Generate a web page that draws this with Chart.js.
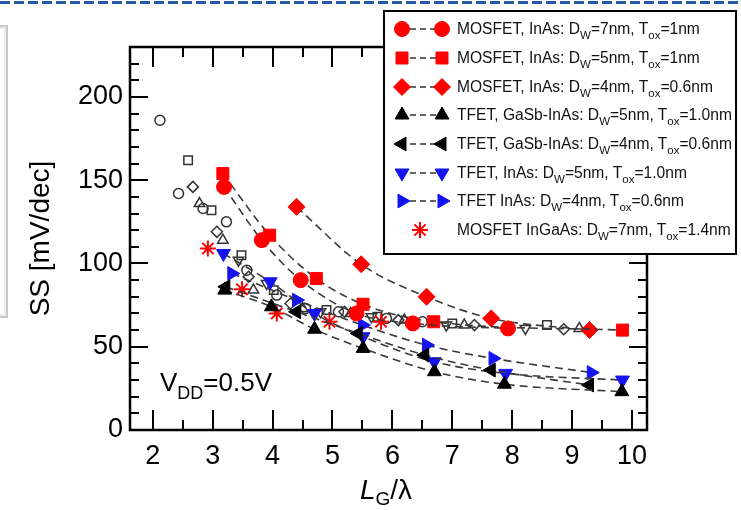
<!DOCTYPE html>
<html>
<head>
<meta charset="utf-8">
<script src="https://cdn.jsdelivr.net/npm/chart.js@4.4.1/dist/chart.umd.min.js"></script>
<style>
  body { margin: 0; background: #fff; }
  #wrap { position: relative; width: 741px; height: 510px; overflow: hidden; font-family: "Liberation Sans", Arial, sans-serif; }
  #ssChart { position: absolute; left: 0; top: 0; }
  .topline { position: absolute; left: 0; top: 1px; width: 741px; height: 3px;
    background: repeating-linear-gradient(90deg, #2459ad 0 10px, transparent 10px 14px); }
  .sidebox { position: absolute; left: -6px; top: 25px; width: 10px; height: 289px;
    border: 2px solid #c9c9c9; box-shadow: inset 0 0 0 2px #ececec; }
  #legend { position: absolute; left: 383px; top: 10px; width: 350px; height: 238px;
    border: 2px solid #000; background: #fff; padding-top: 3px; }
  .row { display: flex; align-items: center; height: 28.7px; font-size: 15.6px; color: #111; white-space: nowrap; }
  .row canvas { margin-left: 7px; margin-right: 5px; }
  .row sub, .vdd sub, .xtitle sub { line-height: 0; }
  .row sub { font-size: 11.5px; vertical-align: -5px; }
  .vdd { position: absolute; left: 160px; top: 369px; font-size: 26px; line-height: 26px; color: #000; }
  .vdd sub { font-size: 18px; vertical-align: -8px; }
  .xtitle { position: absolute; left: 298px; width: 176px; top: 476px; text-align: center;
    font-size: 28px; line-height: 28px; color: #000; }
  .xtitle sub { font-size: 19px; vertical-align: -6px; }
</style>
</head>
<body>
<div id="wrap">
  <div class="topline"></div>
  <div class="sidebox"></div>
  <canvas id="ssChart" width="741" height="510"></canvas>
  <div id="legend"></div>
  <div class="vdd">V<sub>DD</sub>=0.5V</div>
  <div class="xtitle"><i>L</i><sub>G</sub>/λ</div>
</div>
<script>
// Axis ticks
const xTicks = [2, 3, 4, 5, 6, 7, 8, 9, 10];
const yTicks = [0, 50, 100, 150, 200];

// MOSFET, InAs: Dw=7nm, Tox=1nm
const mos7X = [3.19, 3.82, 4.47, 5.40, 6.34, 7.93];
const mos7Y = [146, 114, 90, 70, 64, 61];
// MOSFET, InAs: Dw=5nm, Tox=1nm
const mos5X = [3.17, 3.95, 4.73, 5.51, 6.69, 9.84];
const mos5Y = [154, 117, 91, 75.5, 65, 60];
// MOSFET, InAs: Dw=4nm, Tox=0.6nm
const mos4X = [4.40, 5.48, 6.57, 7.65, 9.29];
const mos4Y = [134, 99.5, 80, 67, 60];
// TFET, GaSb-InAs: Dw=5nm, Tox=1.0nm
const tfetHet5X = [3.20, 3.98, 4.70, 5.51, 6.70, 7.87, 9.83];
const tfetHet5Y = [84, 74, 60.5, 49, 35, 27.5, 23];
// TFET, GaSb-InAs: Dw=4nm, Tox=0.6nm
const tfetHet4X = [3.22, 4.40, 5.43, 6.54, 7.65, 9.29];
const tfetHet4Y = [86, 71, 58, 45, 36, 27];
// TFET, InAs: Dw=5nm, Tox=1.0nm
const tfetInAs5X = [3.18, 3.96, 4.70, 5.51, 6.70, 7.89, 9.84];
const tfetInAs5Y = [106, 89, 70, 56, 41, 34, 30];
// TFET InAs: Dw=4nm, Tox=0.6nm
const tfetInAs4X = [3.32, 4.40, 5.50, 6.57, 7.68, 9.32];
const tfetInAs4Y = [94, 78, 63, 51, 43, 34.5];
// MOSFET InGaAs: Dw=7nm, Tox=1.4nm
const ingaasX = [2.92, 3.49, 4.07, 4.95, 5.81];
const ingaasY = [109, 84.5, 70, 65, 65];

// Hollow reference points (no legend entry)
const openCircleX = [2.12, 2.43, 2.84, 3.23, 3.57, 4.07, 4.55, 5.10, 5.90, 6.50];
const openCircleY = [186, 142, 133, 125, 96, 81, 73, 71, 67, 65];
const openSquareX = [2.59, 2.98, 3.48, 4.02, 4.90, 5.75, 7.00, 8.58];
const openSquareY = [162, 132, 105, 84, 72, 68, 64, 63];
const openDiamondX = [2.67, 3.07, 3.60, 4.30, 5.20, 6.10, 7.37, 8.86];
const openDiamondY = [146, 119, 92, 76, 71, 66, 63, 60.5];
const openTriX = [2.78, 3.17, 3.68, 4.50, 5.30, 6.20, 7.20, 9.12];
const openTriY = [136, 114, 84, 73, 70, 66, 63, 61];
const openTriDownX = [3.43, 3.90, 4.80, 5.65, 6.90, 8.22];
const openTriDownY = [102, 88, 71, 68, 63, 61];

const RED = '#ff0000';
const BLUE = '#1414ee';
const BLACK = '#000000';

function toPoints(xs, ys) {
    return xs.map((x, i) => ({ x: x, y: ys[i] }));
}

// Filled series shown in the legend
const series = [
    { label: 'MOSFET, InAs: D<sub>W</sub>=7nm, T<sub>ox</sub>=1nm', xs: mos7X, ys: mos7Y,
      style: 'circle', rotation: 0, radius: 7.5, color: RED, line: true },
    { label: 'MOSFET, InAs: D<sub>W</sub>=5nm, T<sub>ox</sub>=1nm', xs: mos5X, ys: mos5Y,
      style: 'rect', rotation: 0, radius: 8.5, color: RED, line: true },
    { label: 'MOSFET, InAs: D<sub>W</sub>=4nm, T<sub>ox</sub>=0.6nm', xs: mos4X, ys: mos4Y,
      style: 'rectRot', rotation: 0, radius: 8.5, color: RED, line: true },
    { label: 'TFET, GaSb-InAs: D<sub>W</sub>=5nm, T<sub>ox</sub>=1.0nm', xs: tfetHet5X, ys: tfetHet5Y,
      style: 'triangle', rotation: 0, radius: 8, color: BLACK, line: true },
    { label: 'TFET, GaSb-InAs: D<sub>W</sub>=4nm, T<sub>ox</sub>=0.6nm', xs: tfetHet4X, ys: tfetHet4Y,
      style: 'triangle', rotation: 270, radius: 8, color: BLACK, line: true },
    { label: 'TFET, InAs: D<sub>W</sub>=5nm, T<sub>ox</sub>=1.0nm', xs: tfetInAs5X, ys: tfetInAs5Y,
      style: 'triangle', rotation: 180, radius: 8, color: BLUE, line: true },
    { label: 'TFET InAs: D<sub>W</sub>=4nm, T<sub>ox</sub>=0.6nm', xs: tfetInAs4X, ys: tfetInAs4Y,
      style: 'triangle', rotation: 90, radius: 8, color: BLUE, line: true },
    { label: 'MOSFET InGaAs: D<sub>W</sub>=7nm, T<sub>ox</sub>=1.4nm', xs: ingaasX, ys: ingaasY,
      style: 'star', rotation: 0, radius: 8, color: RED, line: false, borderWidth: 2 },
];

const hollow = [
    { xs: openCircleX, ys: openCircleY, style: 'circle', rotation: 0, radius: 5 },
    { xs: openSquareX, ys: openSquareY, style: 'rect', rotation: 0, radius: 6 },
    { xs: openDiamondX, ys: openDiamondY, style: 'rectRot', rotation: 0, radius: 5.5 },
    { xs: openTriX, ys: openTriY, style: 'triangle', rotation: 0, radius: 6 },
    { xs: openTriDownX, ys: openTriDownY, style: 'triangle', rotation: 180, radius: 6 },
];

const datasets = series.map(s => ({
    data: toPoints(s.xs, s.ys),
    showLine: s.line,
    borderColor: '#3a3a3a',
    borderWidth: 1.6,
    borderDash: [8, 5],
    cubicInterpolationMode: 'monotone',
    pointStyle: s.style,
    pointRotation: s.rotation,
    pointRadius: s.radius,
    pointBackgroundColor: s.color,
    pointBorderColor: s.color,
    pointBorderWidth: s.borderWidth || 1,
})).concat(hollow.map(h => ({
    data: toPoints(h.xs, h.ys),
    showLine: false,
    pointStyle: h.style,
    pointRotation: h.rotation,
    pointRadius: h.radius,
    pointBackgroundColor: 'rgba(0,0,0,0)',
    pointBorderColor: '#333',
    pointBorderWidth: 1.5,
})));

// Frame with inward major/minor ticks on all four sides
const frameTicks = {
    id: 'frameTicks',
    beforeDatasetsDraw(chart) {
        const { ctx, chartArea: a, scales: { x, y } } = chart;
        ctx.save();
        ctx.strokeStyle = '#000';
        ctx.lineWidth = 2;
        ctx.beginPath();
        for (let v = xTicks[0]; v <= xTicks[xTicks.length - 1]; v += 0.5) {
            const px = Math.round(x.getPixelForValue(v));
            const len = Number.isInteger(v) ? 20 : 10;
            ctx.moveTo(px, a.bottom); ctx.lineTo(px, a.bottom - len);
            ctx.moveTo(px, a.top); ctx.lineTo(px, a.top + len);
        }
        for (let v = 10; v < y.max; v += 10) {
            const py = Math.round(y.getPixelForValue(v));
            const len = v % 50 === 0 ? 18 : 9;
            ctx.moveTo(a.left, py); ctx.lineTo(a.left + len, py);
            ctx.moveTo(a.right, py); ctx.lineTo(a.right - len, py);
        }
        ctx.stroke();
        ctx.lineWidth = 2.5;
        ctx.strokeRect(a.left, a.top, a.right - a.left, a.bottom - a.top);
        ctx.restore();
    }
};

Chart.defaults.font.family = '"Liberation Sans", Arial, sans-serif';

new Chart(document.getElementById('ssChart'), {
    type: 'scatter',
    data: { datasets: datasets },
    options: {
        responsive: false,
        animation: false,
        layout: { padding: { top: 47, right: 94, left: 0, bottom: 0 } },
        plugins: { legend: { display: false }, tooltip: { enabled: false } },
        scales: {
            x: {
                type: 'linear',
                min: 1.62,
                max: 10.25,
                afterBuildTicks: s => { s.ticks = xTicks.map(v => ({ value: v })); },
                afterFit: s => { s.height = 80; },
                grid: { display: false, drawTicks: false },
                border: { display: false },
                ticks: { color: '#000', font: { size: 27 }, padding: 10, maxRotation: 0, autoSkip: false },
            },
            y: {
                type: 'linear',
                min: 0,
                max: 230,
                afterBuildTicks: s => { s.ticks = yTicks.map(v => ({ value: v })); },
                afterFit: s => { s.width = 130; },
                grid: { display: false, drawTicks: false },
                border: { display: false },
                ticks: { color: '#000', font: { size: 27 }, padding: 7 },
                title: { display: true, text: 'SS [mV/dec]', color: '#000', font: { size: 28 }, padding: { top: 24, bottom: 0 } },
            },
        },
    },
    plugins: [frameTicks],
});

// Legend rows: marker - dashed line - marker, then label
function drawSample(canvas, s) {
    const ctx = canvas.getContext('2d');
    const cy = canvas.height / 2;
    if (s.line) {
        ctx.strokeStyle = '#333';
        ctx.lineWidth = 1.5;
        ctx.setLineDash([6, 4]);
        ctx.beginPath();
        ctx.moveTo(18, cy);
        ctx.lineTo(44, cy);
        ctx.stroke();
        ctx.setLineDash([]);
    }
    ctx.fillStyle = s.color;
    ctx.strokeStyle = s.color;
    ctx.lineWidth = s.borderWidth || 1;
    const opts = { pointStyle: s.style, rotation: s.rotation, radius: s.radius, borderWidth: s.borderWidth || 1 };
    const xs = s.line ? [10, 50] : [28];
    xs.forEach(px => Chart.helpers.drawPoint(ctx, opts, px, cy));
}

const legendEl = document.getElementById('legend');
series.forEach(s => {
    const row = document.createElement('div');
    row.className = 'row';
    const c = document.createElement('canvas');
    c.width = 60;
    c.height = 24;
    row.appendChild(c);
    const span = document.createElement('span');
    span.innerHTML = s.label;
    row.appendChild(span);
    legendEl.appendChild(row);
    drawSample(c, s);
});
</script>
</body>
</html>
